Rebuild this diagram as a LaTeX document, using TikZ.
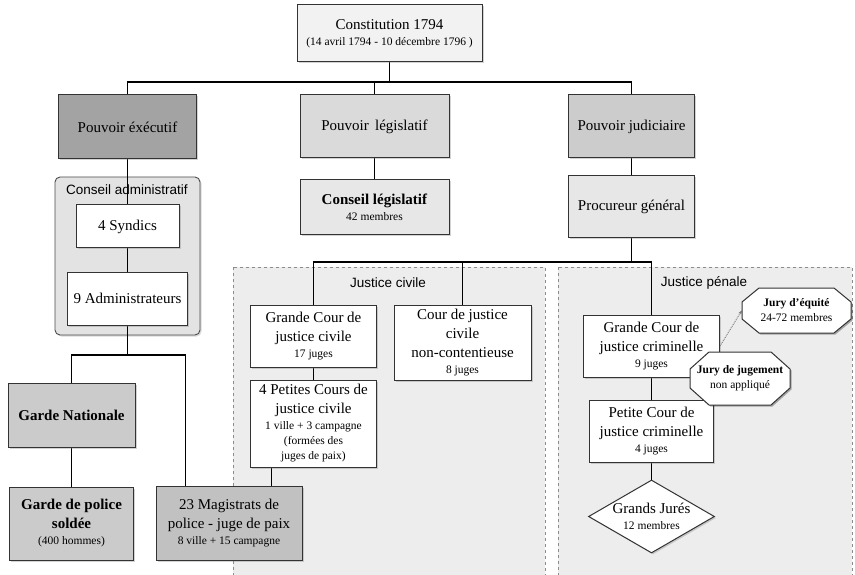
\documentclass[tikz,border=0pt]{standalone}
\usepackage{fontspec}
\setmainfont{Liberation Serif}
\setsansfont{Liberation Sans}
\usetikzlibrary{shapes.geometric,shadows,arrows.meta}

\pgfdeclarelayer{bg}
\pgfdeclarelayer{edges}
\pgfsetlayers{bg,edges,main}

\begin{document}
\begin{tikzpicture}[x=1pt, y=-1pt,
  box/.style={draw=black!80, line width=1pt, fill=white, align=center,
    inner sep=0pt, font=\maintxt,
    drop shadow={opacity=0.35, shadow xshift=1.5pt, shadow yshift=-1.5pt}},
  jurytext/.style={align=center, inner sep=0pt, font=\smalltxt},
  link/.style={draw=black, line width=1.1pt},
  area/.style={fill=black!7, draw=black!45, dashed, line width=0.6pt},
  arealabel/.style={font=\sffamily\fontsize{13.5}{16}\selectfont}]

%─────────────
% Controls
%─────────────
\newcommand{\maintxt}{\fontsize{15}{19}\selectfont}
\newcommand{\smalltxt}{\fontsize{11.5}{15}\selectfont}
\definecolor{execgray}{HTML}{A3A3A3}
\definecolor{judicgray}{HTML}{CCCCCC}
\definecolor{legisgray}{HTML}{DADADA}
\definecolor{lightbox}{HTML}{E7E7E7}
\definecolor{gardegray}{HTML}{CBCBCB}

%───────────────────────────────────────────────────────
% Octagon for the juries
% #1 name, (#2,#3) centre, #4 width, #5 height,
% #6 corner cut x, #7 corner cut y, #8 text
%───────────────────────────────────────────────────────
\newcommand{\drawJury}[8]{%
  \begin{scope}[shift={(#2,#3)}]
    \pgfmathsetmacro{\hw}{#4/2}
    \pgfmathsetmacro{\hh}{#5/2}
    \fill[black, opacity=0.3, shift={(1.5,1.5)}]
      (-\hw+#6,-\hh) -- (\hw-#6,-\hh) -- (\hw,-\hh+#7) -- (\hw,\hh-#7)
      -- (\hw-#6,\hh) -- (-\hw+#6,\hh) -- (-\hw,\hh-#7) -- (-\hw,-\hh+#7) -- cycle;
    \filldraw[fill=white, draw=black!80, line width=1pt]
      (-\hw+#6,-\hh) -- (\hw-#6,-\hh) -- (\hw,-\hh+#7) -- (\hw,\hh-#7)
      -- (\hw-#6,\hh) -- (-\hw+#6,\hh) -- (-\hw,\hh-#7) -- (-\hw,-\hh+#7) -- cycle;
    \node[jurytext, minimum width=#4, minimum height=#5] (#1) at (0,0) {#8};
  \end{scope}
}

\useasboundingbox (0,0) rectangle (855,575);

%─────────────
% Areas
%─────────────
\begin{pgfonlayer}{bg}
  \draw[fill=black!11, draw=black!70, line width=0.9pt, rounded corners=5pt,
    drop shadow={opacity=0.3, shadow xshift=1.5pt, shadow yshift=-1.5pt}]
    (55,177) rectangle (200,335);
  \draw[area] (233,267) rectangle (545,575);
  \draw[area] (558,267) rectangle (852,575);
\end{pgfonlayer}
\node[arealabel] (lbladmin) at (127,190) {Conseil administratif};
\node[arealabel] (lblcivile) at (388,283) {Justice civile};
\node[arealabel] (lblpenale) at (704,283) {Justice pénale};

%─────────────
% Top level
%─────────────
\node[box, fill=black!5, minimum width=185, minimum height=57] (const) at (389.5,33.5)
  {Constitution 1794\\[-3pt] {\smalltxt (14 avril 1794 - 10 décembre 1796 )}};

\node[box, fill=execgray, minimum width=138, minimum height=64] (exec) at (127.5,127) {Pouvoir éxécutif};
\node[box, fill=legisgray, minimum width=149, minimum height=63] (legis) at (374.5,126.5) {Pouvoir \,législatif};
\node[box, fill=judicgray, minimum width=126, minimum height=63] (judic) at (631.5,126.5) {Pouvoir judiciaire};

%─────────────
% Executive side
%─────────────
\node[box, minimum width=103, minimum height=43] (syndics) at (127.5,226.5) {4 Syndics};
\node[box, minimum width=120, minimum height=53] (admins) at (127.5,298.5) {9 Administrateurs};
\node[box, fill=gardegray, font=\maintxt\bfseries, minimum width=127, minimum height=64] (gardenat) at (71.5,415) {Garde Nationale};
\node[box, fill=gardegray, font=\maintxt\bfseries, minimum width=124, minimum height=73] (gardepol) at (71.5,523.5)
  {Garde de police\\ soldée\\[-3pt] {\smalltxt\mdseries (400 hommes)}};
\node[box, fill=gardegray!95!black, minimum width=146, minimum height=74] (magistrats) at (229,523)
  {23 Magistrats de\\ police - juge de paix\\[-3pt] {\smalltxt 8 ville + 15 campagne}};

%─────────────
% Legislative / judiciary
%─────────────
\node[box, fill=lightbox, minimum width=149, minimum height=55] (conslegis) at (374.5,207.5)
  {\textbf{Conseil législatif}\\[-3pt] {\smalltxt 42 membres}};
\node[box, fill=lightbox, minimum width=126, minimum height=62] (procureur) at (631.5,207) {Procureur général};

% Justice civile
\node[box, minimum width=126, minimum height=62] (gccivile) at (313.5,336)
  {Grande Cour de\\ justice civile\\[-3pt] {\smalltxt 17 juges}};
\node[box, minimum width=137, minimum height=75] (noncont) at (462.5,342.5)
  {Cour de justice\\ civile\\ non-contentieuse\\[-3pt] {\smalltxt 8 juges}};
\node[box, minimum width=126, minimum height=87] (petites) at (313.5,423.5)
  {4 Petites Cours de\\ justice civile\\[-3pt] {\smalltxt 1 ville + 3 campagne}\\[-4pt]
   {\smalltxt (formées des}\\[-4pt] {\smalltxt juges de paix)}};

% Justice penale
\node[box, minimum width=136, minimum height=62] (gccrim) at (651.5,346)
  {Grande Cour de\\ justice criminelle\\[-3pt] {\smalltxt 9 juges}};
\node[box, minimum width=124, minimum height=62] (pccrim) at (651.5,431)
  {Petite Cour de\\ justice criminelle\\[-3pt] {\smalltxt 4 juges}};
\node[box, diamond, aspect=1.7, inner sep=-3pt, minimum width=126, minimum height=73] (jures) at (651.5,516.5)
  {Grands Jurés\\[-3pt] {\smalltxt 12 membres}};
\drawJury{juryeq}{796.5}{310.5}{109}{45}{17}{14}
  {\textbf{Jury d'équité}\\ 24-72 membres}
\drawJury{juryjug}{740}{378.5}{100}{53}{19}{17}
  {\textbf{Jury de jugement}\\ non appliqué}

%─────────────
% Connectors
%─────────────
\coordinate (busTop) at (389.5,82);
\coordinate (busAdm) at (127.5,355);
\coordinate (busJus) at (631.5,262);
\coordinate (magTop) at (185.5,486);
\coordinate (petBot) at (271.5,467);

\begin{pgfonlayer}{edges}
  \draw[link] (const.south) -- (busTop);
  \draw[link] (exec.north) |- (busTop) -| (judic.north);
  \draw[link] (legis.north) -- (legis.north |- busTop);
  \draw[link] (exec.south) -- (syndics.north);
  \draw[link] (syndics.south) -- (admins.north);
  \draw[link] (admins.south) -- (busAdm);
  \draw[link] (gardenat.north) |- (busAdm) -| (magTop);
  \draw[link] (gardenat.south) -- (gardepol.north);
  \draw[link] (legis.south) -- (conslegis.north);
  \draw[link] (judic.south) -- (procureur.north);
  \draw[link] (procureur.south) -- (busJus);
  \draw[link] (gccivile.north) |- (busJus) -| (gccrim.north);
  \draw[link] (noncont.north) -- (noncont.north |- busJus);
  \draw[link] (gccivile.south) -- (petites.north);
  \draw[link] (petBot) -- (petBot |- magistrats.north);
  \draw[link] (gccrim.south) -- (pccrim.north);
  \draw[link] (pccrim.south) -- (jures.north);
  \draw[black!55, line width=0.9pt, densely dotted, -{Stealth[length=4pt]}] (gccrim.east) -- (juryeq.west);
\end{pgfonlayer}

\end{tikzpicture}
\end{document}
